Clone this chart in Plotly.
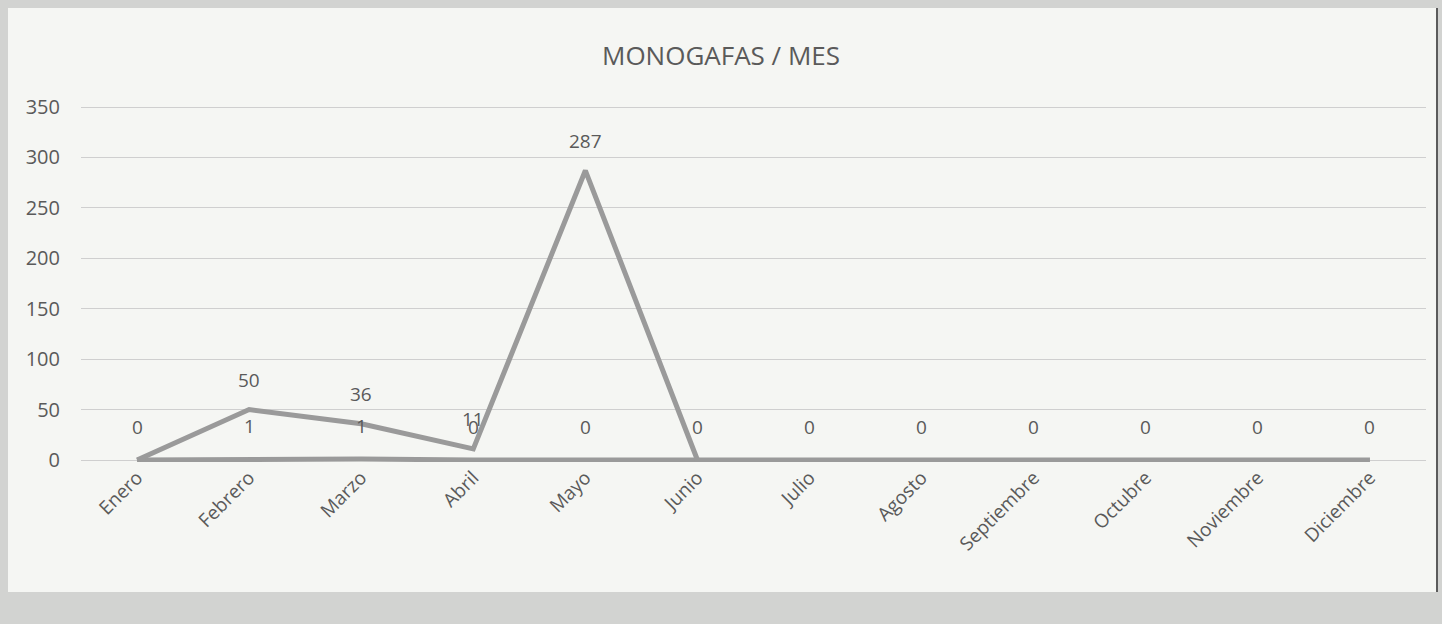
import plotly.graph_objects as go

meses = ["Enero", "Febrero", "Marzo", "Abril", "Mayo", "Junio", "Julio",
         "Agosto", "Septiembre", "Octubre", "Noviembre", "Diciembre"]
serie_a = [0, 50, 36, 11, 287, 0, None, None, None, None, None, None]
serie_b = [0, 1, 1, 0, 0, 0, 0, 0, 0, 0, 0, 0]
y_ticks = [0, 50, 100, 150, 200, 250, 300, 350]

LINE = "#9a9a9a"
TXT = "#5a5a5a"
FONT = "Open Sans"

fig = go.Figure()
fig.add_trace(go.Scatter(x=meses, y=serie_b, mode="lines",
                         line=dict(color=LINE, width=5), showlegend=False,
                         hoverinfo="skip"))
fig.add_trace(go.Scatter(x=meses, y=serie_a, mode="lines",
                         line=dict(color=LINE, width=5), showlegend=False,
                         hoverinfo="skip"))

anns = []
# labels of series A (zeros coincide with series B labels, drawn once)
for m, v in zip(meses, serie_a):
    if v is None or v == 0:
        continue
    anns.append(dict(x=m, y=v, text=str(v), showarrow=False, yshift=30,
                     font=dict(family=FONT, size=19, color=TXT)))
for m, v in zip(meses, serie_b):
    anns.append(dict(x=m, y=v, text=str(v), showarrow=False, yshift=33,
                     font=dict(family=FONT, size=19, color=TXT)))

PW, PH = 1345, 365  # plot area pixels (x 81..1426, y 97..462)
fig.update_layout(
    width=1442, height=624,
    paper_bgcolor="#d2d3d1",
    plot_bgcolor="rgba(0,0,0,0)",
    margin=dict(l=81, r=16, t=97, b=162),
    title=dict(text="MONOGAFAS / MES", x=0.5, xanchor="center",
               y=1 - 56 / 624, yanchor="middle",
               font=dict(family=FONT, size=26, color=TXT)),
    annotations=anns,
    shapes=[dict(type="rect", xref="paper", yref="paper",
                 x0=-73 / PW, x1=1355 / PW, y0=-130 / PH, y1=454 / PH,
                 fillcolor="#f5f6f3", line=dict(width=0), layer="below"),
            dict(type="line", xref="paper", yref="paper",
                 x0=1356 / PW, x1=1356 / PW, y0=-130 / PH, y1=454 / PH,
                 line=dict(color="#333333", width=1.5))],
    xaxis=dict(type="category", range=[-0.5, 11.5], tickangle=-45,
               showgrid=False, showline=False, ticks="",
               tickfont=dict(family=FONT, size=19, color=TXT)),
    yaxis=dict(range=[-1.98, 359.91], tickvals=y_ticks, showgrid=True,
               gridcolor="#cfcfcf", gridwidth=1, zeroline=False,
               showline=False, ticks="", ticklabelstandoff=20,
               tickfont=dict(family=FONT, size=20, color=TXT)),
)

fig.write_html("out.html", config={"displayModeBar": False},
               post_script="document.body.style.margin='0';"
                           "document.body.style.background='#d2d3d1';")
